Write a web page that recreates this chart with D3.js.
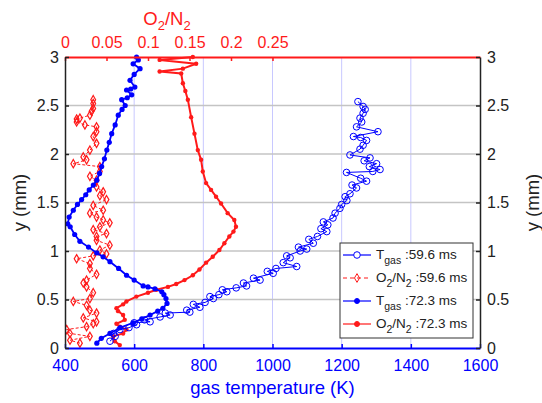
<!DOCTYPE html>
<html lang="en">
  <head>
    <meta charset="UTF-8" />
    <title>Gas temperature and O2/N2 profiles</title>
    <style>
      body {
        margin: 0;
        background: #fff;
        font-family: "Liberation Sans", Arial, sans-serif;
      }
      svg {
        display: block;
      }
    </style>
  </head>
  <body>
    <svg width="542" height="403"></svg>
    <script src="https://cdnjs.cloudflare.com/ajax/libs/d3/7.8.5/d3.min.js"></script>
    <script>
      // T_gas at 59.6 ms (open circles)
      const t59Temp = [530, 545, 540, 559, 585, 607, 600, 646, 630, 675, 704, 690, 761, 752, 790, 771, 805, 829, 819, 845, 868, 855, 895, 925, 916, 964, 945, 1002, 985, 1010, 1070, 1031, 1051, 1041, 1080, 1099, 1075, 1118, 1105, 1130, 1157, 1140, 1160, 1147, 1175, 1181, 1195, 1200, 1215, 1210, 1224, 1243, 1230, 1272, 1255, 1214, 1290, 1311, 1280, 1301, 1265, 1282, 1224, 1253, 1262, 1272, 1255, 1234, 1305, 1243, 1258, 1253, 1262, 1268, 1262, 1247];
      const t59Y = [0.07, 0.12, 0.15, 0.19, 0.21, 0.24, 0.26, 0.27, 0.29, 0.32, 0.34, 0.36, 0.37, 0.39, 0.42, 0.45, 0.47, 0.51, 0.53, 0.55, 0.58, 0.6, 0.62, 0.64, 0.67, 0.7, 0.72, 0.77, 0.79, 0.82, 0.84, 0.88, 0.93, 0.95, 1.0, 1.02, 1.04, 1.08, 1.12, 1.15, 1.2, 1.23, 1.27, 1.3, 1.34, 1.39, 1.44, 1.48, 1.52, 1.56, 1.59, 1.65, 1.68, 1.72, 1.75, 1.81, 1.82, 1.84, 1.87, 1.9, 1.93, 1.96, 1.99, 2.05, 2.09, 2.14, 2.17, 2.18, 2.23, 2.28, 2.33, 2.37, 2.42, 2.46, 2.49, 2.54];

      // O2/N2 at 59.6 ms (diamonds, dashed)
      const r59Ratio = [0.018, 0.006, 0.03, 0.006, 0.002, 0.026, 0.034, 0.038, 0.022, 0.038, 0.03, 0.026, 0.01, 0.03, 0.034, 0.026, 0.022, 0.026, 0.038, 0.03, 0.03, 0.014, 0.034, 0.05, 0.042, 0.054, 0.038, 0.038, 0.05, 0.034, 0.042, 0.054, 0.046, 0.038, 0.03, 0.046, 0.034, 0.05, 0.042, 0.046, 0.038, 0.038, 0.03, 0.042, 0.042, 0.01, 0.026, 0.022, 0.03, 0.038, 0.034, 0.038, 0.038, 0.024, 0.014, 0.014, 0.018, 0.03, 0.032, 0.034, 0.034, 0.034];
      const r59Y = [0.05, 0.08, 0.12, 0.15, 0.19, 0.22, 0.25, 0.27, 0.31, 0.36, 0.39, 0.44, 0.48, 0.51, 0.57, 0.63, 0.67, 0.7, 0.76, 0.82, 0.87, 0.92, 0.95, 0.97, 1.01, 1.06, 1.11, 1.15, 1.18, 1.22, 1.25, 1.29, 1.32, 1.35, 1.39, 1.42, 1.47, 1.53, 1.57, 1.61, 1.66, 1.73, 1.77, 1.82, 1.87, 1.9, 1.94, 1.97, 2.04, 2.11, 2.18, 2.23, 2.28, 2.3, 2.33, 2.36, 2.37, 2.4, 2.44, 2.47, 2.52, 2.56];

      // T_gas at 72.3 ms (filled dots)
      const t72Temp = [492, 505, 530, 560, 597, 622, 646, 668, 683, 695, 692, 686, 680, 660, 640, 626, 600, 578, 555, 530, 510, 492, 468, 443, 428, 415, 408, 412, 424, 436, 448, 460, 470, 482, 492, 500, 506, 514, 521, 528, 535, 545, 554, 565, 574, 564, 580, 593, 578, 590, 602, 588, 600, 617, 597, 612, 607];
      const t72Y = [0.05, 0.1, 0.15, 0.21, 0.26, 0.3, 0.34, 0.38, 0.41, 0.46, 0.51, 0.55, 0.58, 0.61, 0.63, 0.64, 0.7, 0.75, 0.82, 0.89, 0.94, 0.98, 1.04, 1.1, 1.17, 1.25, 1.28, 1.35, 1.42, 1.48, 1.53, 1.58, 1.63, 1.68, 1.73, 1.8, 1.87, 1.95, 2.04, 2.12, 2.21, 2.3, 2.4, 2.46, 2.5, 2.56, 2.58, 2.61, 2.66, 2.67, 2.69, 2.76, 2.82, 2.88, 2.93, 2.97, 3.0];

      // O2/N2 at 72.3 ms (filled dots)
      const r72Ratio = [0.066, 0.06, 0.058, 0.07, 0.074, 0.066, 0.062, 0.072, 0.07, 0.064, 0.062, 0.07, 0.074, 0.086, 0.1, 0.11, 0.124, 0.134, 0.144, 0.154, 0.162, 0.17, 0.178, 0.186, 0.192, 0.198, 0.203, 0.206, 0.204, 0.196, 0.188, 0.182, 0.176, 0.17, 0.166, 0.164, 0.16, 0.156, 0.152, 0.148, 0.145, 0.142, 0.14, 0.114, 0.142, 0.158, 0.114, 0.154];
      const r72Y = [0.03, 0.07, 0.12, 0.15, 0.19, 0.22, 0.25, 0.29, 0.34, 0.38, 0.41, 0.45, 0.48, 0.53, 0.57, 0.6, 0.63, 0.66, 0.7, 0.75, 0.81, 0.88, 0.94, 1.01, 1.08, 1.15, 1.2, 1.25, 1.32, 1.39, 1.49, 1.56, 1.63, 1.7, 1.82, 1.94, 2.04, 2.21, 2.38, 2.56, 2.65, 2.73, 2.83, 2.85, 2.88, 2.93, 2.97, 3.0];

      const tempTicks = [400, 600, 800, 1000, 1200, 1400, 1600];
      const ratioTicks = [0, 0.05, 0.1, 0.15, 0.2, 0.25];
      const yTicks = [0, 0.5, 1, 1.5, 2, 2.5, 3];
      const legendLabels = [
        { main: "T", sub: "gas", rest: " :59.6 ms" },
        { main: "O", sub: "2", main2: "/N", sub2: "2", rest: " :59.6 ms" },
        { main: "T", sub: "gas", rest: " :72.3 ms" },
        { main: "O", sub: "2", main2: "/N", sub2: "2", rest: " :72.3 ms" },
      ];

      const blue = "#0000ff",
        red = "#ff1a1a";
      const mLeft = 65,
        mTop = 57,
        plotW = 415,
        plotH = 291;

      const svg = d3.select("svg");

      const x = d3.scaleLinear().domain([400, 1600]).range([mLeft, mLeft + plotW]);
      const xr = d3.scaleLinear().domain([0, 0.5]).range([mLeft, mLeft + plotW]);
      const y = d3.scaleLinear().domain([0, 3]).range([mTop + plotH, mTop]);

      // grid
      svg
        .append("g")
        .selectAll("line")
        .data(tempTicks.slice(1, -1))
        .join("line")
        .attr("x1", (d) => x(d))
        .attr("x2", (d) => x(d))
        .attr("y1", mTop)
        .attr("y2", mTop + plotH)
        .attr("stroke", "#c8c8ff")
        .attr("stroke-width", 1);
      svg
        .append("g")
        .selectAll("line")
        .data(yTicks.slice(1, -1))
        .join("line")
        .attr("x1", mLeft)
        .attr("x2", mLeft + plotW)
        .attr("y1", (d) => y(d))
        .attr("y2", (d) => y(d))
        .attr("stroke", "#c4c4c4")
        .attr("stroke-width", 1.5);

      svg
        .append("clipPath")
        .attr("id", "plot")
        .append("rect")
        .attr("x", mLeft)
        .attr("y", mTop - 3)
        .attr("width", plotW)
        .attr("height", plotH + 3);

      const plot = svg.append("g").attr("clip-path", "url(#plot)");

      const zip = (a, b) => a.map((v, i) => [v, b[i]]);

      function drawSeries(pts, sx, opts) {
        const line = d3
          .line()
          .x((d) => sx(d[0]))
          .y((d) => y(d[1]));
        plot
          .append("path")
          .datum(pts)
          .attr("d", line)
          .attr("fill", "none")
          .attr("stroke", opts.color)
          .attr("stroke-width", opts.lw)
          .attr("stroke-dasharray", opts.dash || null);
        const g = plot.append("g");
        if (opts.marker === "diamond") {
          g.selectAll("path")
            .data(pts)
            .join("path")
            .attr("transform", (d) => `translate(${sx(d[0])},${y(d[1])})`)
            .attr("d", d3.symbol(d3.symbolDiamond, 20))
            .attr("fill", "none")
            .attr("stroke", opts.color)
            .attr("stroke-width", 1.2);
        } else {
          g.selectAll("circle")
            .data(pts)
            .join("circle")
            .attr("cx", (d) => sx(d[0]))
            .attr("cy", (d) => y(d[1]))
            .attr("r", opts.r)
            .attr("fill", opts.open ? "none" : opts.color)
            .attr("stroke", opts.color)
            .attr("stroke-width", opts.open ? 1 : 0);
        }
      }

      drawSeries(zip(r59Ratio, r59Y), xr, { color: red, lw: 1, dash: "3,2", marker: "diamond" });
      drawSeries(zip(r72Ratio, r72Y), xr, { color: red, lw: 2, r: 2.2 });
      drawSeries(zip(t72Temp, t72Y), x, { color: blue, lw: 1.8, r: 2.6 });
      drawSeries(zip(t59Temp, t59Y), x, { color: blue, lw: 1, r: 3.3, open: true });

      // axes
      const font = "'Liberation Sans', Arial, sans-serif";
      const tickFont = 16;
      svg
        .append("g")
        .attr("transform", `translate(0,${mTop + plotH})`)
        .call(d3.axisBottom(x).tickValues(tempTicks).tickFormat(d3.format("d")).tickSizeInner(-4).tickSizeOuter(0).tickPadding(12))
        .call((g) => {
          g.select(".domain").attr("stroke", blue).attr("stroke-width", 2);
          g.selectAll(".tick line").attr("stroke", blue).attr("stroke-width", 1.5);
          g.selectAll("text").attr("fill", blue).attr("font-size", tickFont).attr("font-family", font);
        });
      svg
        .append("g")
        .attr("transform", `translate(0,${mTop})`)
        .call(d3.axisTop(xr).tickValues(ratioTicks).tickFormat(d3.format("")).tickSizeInner(-4).tickSizeOuter(0).tickPadding(9))
        .call((g) => {
          g.select(".domain").attr("stroke", red).attr("stroke-width", 2);
          g.selectAll(".tick line").attr("stroke", red).attr("stroke-width", 1.5);
          g.selectAll("text").attr("fill", red).attr("font-size", tickFont).attr("font-family", font);
        });
      svg
        .append("g")
        .attr("transform", `translate(${mLeft},0)`)
        .call(d3.axisLeft(y).tickValues(yTicks).tickFormat(d3.format("")).tickSizeInner(-4).tickSizeOuter(0).tickPadding(6))
        .call((g) => {
          g.select(".domain").attr("stroke", "#222").attr("stroke-width", 1.5);
          g.selectAll(".tick line").attr("stroke", "#222").attr("stroke-width", 1.5);
          g.selectAll("text").attr("fill", "#222").attr("font-size", tickFont).attr("font-family", font);
        });
      svg
        .append("g")
        .attr("transform", `translate(${mLeft + plotW},0)`)
        .call(d3.axisRight(y).tickValues(yTicks).tickFormat(d3.format("")).tickSizeInner(-4).tickSizeOuter(0).tickPadding(7))
        .call((g) => {
          g.select(".domain").attr("stroke", "#222").attr("stroke-width", 1.5);
          g.selectAll(".tick line").attr("stroke", "#222").attr("stroke-width", 1.5);
          g.selectAll("text").attr("fill", "#222").attr("font-size", tickFont).attr("font-family", font);
        });

      // axis titles
      svg
        .append("text")
        .attr("x", mLeft + plotW / 2)
        .attr("y", 394)
        .attr("text-anchor", "middle")
        .attr("fill", blue)
        .attr("font-size", 18.5)
        .attr("font-family", font)
        .text("gas temperature (K)");

      const topTitle = svg
        .append("text")
        .attr("x", 167)
        .attr("y", 25)
        .attr("text-anchor", "middle")
        .attr("fill", red)
        .attr("font-size", 18.5)
        .attr("font-family", font);
      topTitle.append("tspan").text("O");
      topTitle.append("tspan").attr("dy", 5).attr("font-size", 13).text("2");
      topTitle.append("tspan").attr("dy", -5).text("/N");
      topTitle.append("tspan").attr("dy", 5).attr("font-size", 13).text("2");

      [20, 533].forEach((cx) => {
        svg
          .append("text")
          .attr("transform", `translate(${cx},${mTop + plotH / 2}) rotate(-90)`)
          .attr("text-anchor", "middle")
          .attr("dy", "0.35em")
          .attr("fill", "#222")
          .attr("font-size", 18.5)
          .attr("font-family", font)
          .text("y (mm)");
      });

      // legend
      const legend = svg.append("g").attr("transform", "translate(340,243)");
      legend
        .append("rect")
        .attr("width", 133)
        .attr("height", 95)
        .attr("fill", "#fff")
        .attr("stroke", "#333")
        .attr("stroke-width", 1);
      const legendStyle = [
        { color: blue, dash: null, marker: "open" },
        { color: red, dash: "4,3", marker: "diamond" },
        { color: blue, dash: null, marker: "dot" },
        { color: red, dash: null, marker: "dot" },
      ];
      legendLabels.forEach((lab, i) => {
        const st = legendStyle[i];
        const ly = 12 + i * 23;
        legend
          .append("line")
          .attr("x1", 3)
          .attr("x2", 31)
          .attr("y1", ly)
          .attr("y2", ly)
          .attr("stroke", st.color)
          .attr("stroke-width", 1.2)
          .attr("stroke-dasharray", st.dash);
        if (st.marker === "diamond") {
          legend
            .append("path")
            .attr("transform", `translate(17,${ly})`)
            .attr("d", d3.symbol(d3.symbolDiamond, 22))
            .attr("fill", "none")
            .attr("stroke", st.color);
        } else {
          legend
            .append("circle")
            .attr("cx", 17)
            .attr("cy", ly)
            .attr("r", st.marker === "open" ? 3.3 : 2.5)
            .attr("fill", st.marker === "open" ? "#fff" : st.color)
            .attr("stroke", st.color);
        }
        const t = legend
          .append("text")
          .attr("x", 36)
          .attr("y", ly + 4)
          .attr("fill", "#222")
          .attr("font-size", 13.5)
          .attr("font-family", font);
        t.append("tspan").text(lab.main);
        t.append("tspan").attr("dy", 5).attr("font-size", 10.5).text(lab.sub);
        if (lab.main2) {
          t.append("tspan").attr("dy", -5).text(lab.main2);
          t.append("tspan").attr("dy", 5).attr("font-size", 10.5).text(lab.sub2);
        }
        t.append("tspan").attr("dy", -5).text(lab.rest);
      });
    </script>
  </body>
</html>
